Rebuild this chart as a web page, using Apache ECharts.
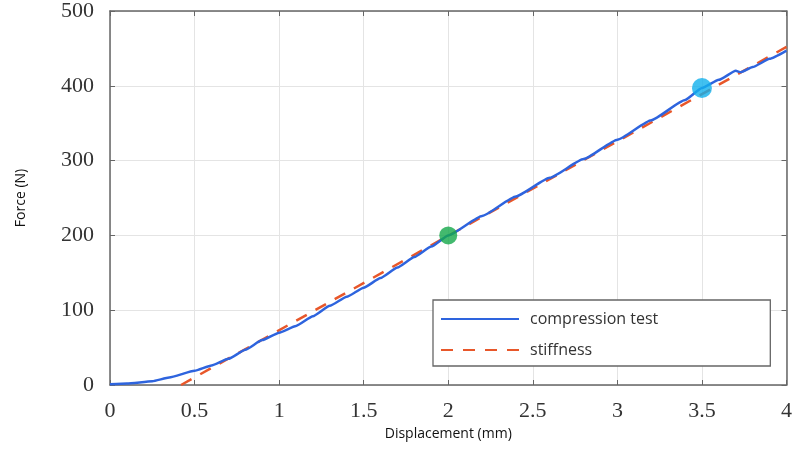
<!DOCTYPE html>
<html><head><meta charset="utf-8">
<script src="https://cdn.jsdelivr.net/npm/echarts@6/dist/echarts.min.js"></script>
<style>html,body{margin:0;padding:0;background:#fff}#c{width:795px;height:468px}</style>
</head><body><div id="c"></div>
<script>
const compX = [0,0.1,0.25,0.35,0.5,0.6,0.7,0.8,0.9,1.0,1.1,1.2,1.3,1.4,1.5,1.6,1.7,1.8,1.9,2.0,2.2,2.4,2.6,2.8,3.0,3.2,3.4,3.5,3.6,3.7,3.73,3.8,3.9,4.0];
const compY = [1,2,5,10,19,26,35,47,60,70,79,92,106,118,130,143,157,171,185,200,226,252,277,302,328,354,381,397,408,420,418,425,436,447];
const stiffX = [0.42,4.0];
const stiffY = [0,452];
const markGreen = [2.0,200];
const markCyan = [3.5,397];
const xTicks = [0,0.5,1,1.5,2,2.5,3,3.5,4];
const yTicks = [0,100,200,300,400,500];

const chart = echarts.init(document.getElementById('c'));
const serif = 'Liberation Serif';
const sans = 'Open Sans';
const axisCommon = {
  axisLine:{show:true,onZero:false,lineStyle:{color:'#666',width:1.5}},
  axisTick:{show:true,inside:true,length:5,lineStyle:{color:'#666'}},
};
chart.setOption({
  animation:false,
  grid:{left:110,right:7,top:11,bottom:83,containLabel:false},
  legend:{
    left:433, top:300, orient:'vertical',
    padding:[11,112,8,7], itemGap:15,
    itemWidth:78, itemHeight:14,
    itemStyle:{opacity:0},
    borderColor:'#666', borderWidth:1.3, backgroundColor:'#fff',
    textStyle:{fontFamily:sans,fontSize:16,color:'#333',padding:[0,0,0,6]},
    data:['compression test','stiffness']
  },
  xAxis:[{
    type:'value',min:0,max:4,interval:0.5,position:'bottom',
    name:'Displacement (mm)',nameLocation:'middle',nameGap:37,
    nameTextStyle:{fontFamily:sans,fontSize:14,color:'#111'},
    axisLabel:{fontFamily:serif,fontSize:22,color:'#333',margin:15,
      formatter:v=>xTicks.includes(v)?String(v):''},
    splitLine:{show:true,lineStyle:{color:'#e4e4e4'}},
    ...axisCommon
  },{
    type:'value',min:0,max:4,interval:0.5,position:'top',
    axisLabel:{show:false},splitLine:{show:false},...axisCommon
  }],
  yAxis:[{
    type:'value',min:0,max:500,interval:100,position:'left',
    name:'Force (N)',nameLocation:'middle',nameGap:82,
    nameTextStyle:{fontFamily:sans,fontSize:14,color:'#111'},
    axisLabel:{fontFamily:serif,fontSize:22,color:'#333',margin:16,
      formatter:v=>yTicks.includes(v)?String(v):''},
    splitLine:{show:true,lineStyle:{color:'#e4e4e4'}},
    ...axisCommon
  },{
    type:'value',min:0,max:500,interval:100,position:'right',
    axisLabel:{show:false},splitLine:{show:false},...axisCommon
  }],
  series:[
    {name:'compression test',type:'line',xAxisIndex:0,yAxisIndex:0,
     data:compX.map((x,i)=>[x,compY[i]]),symbol:'none',smooth:0.15,smoothMonotone:'x',
     lineStyle:{color:'#2e64de',width:2.5},itemStyle:{color:'#2e64de'},z:3},
    {name:'stiffness',type:'line',xAxisIndex:0,yAxisIndex:0,
     data:stiffX.map((x,i)=>[x,stiffY[i]]),symbol:'none',
     lineStyle:{color:'#e8572a',width:2.5,type:[12,10]},itemStyle:{color:'#e8572a'},z:2},
    {name:'pts',type:'scatter',xAxisIndex:0,yAxisIndex:0,
     data:[{value:markGreen,symbolSize:18,itemStyle:{color:'#14a84a'}},
           {value:markCyan,symbolSize:20,itemStyle:{color:'#12b0ec'}}],
     z:5}
  ]
});
</script></body></html>
